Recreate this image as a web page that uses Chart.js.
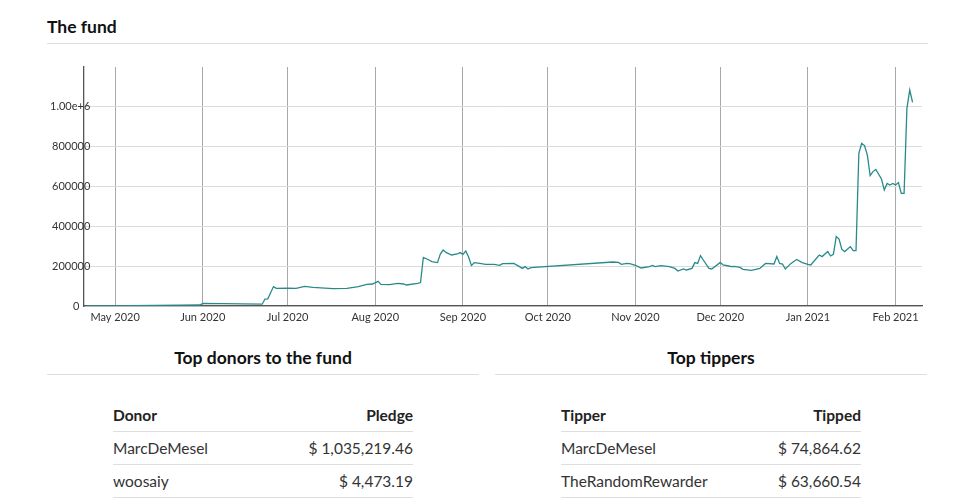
<!DOCTYPE html>
<html>
<head>
<meta charset="utf-8">
<title>The fund</title>
<script src="https://cdn.jsdelivr.net/npm/chart.js@4.4.1/dist/chart.umd.min.js"></script>
<style>
    html, body { margin: 0; padding: 0; background: #fff; }
    body { width: 975px; height: 499px; position: relative; overflow: hidden; font-family: 'Lato', sans-serif; color: #222; }
    .titulo { position: absolute; font-size: 17.5px; font-weight: bold; line-height: 24px; color: #111; }
    .raya { position: absolute; height: 1px; background: #dedede; }
    #caja-grafica { position: absolute; left: 0; top: 50px; width: 975px; height: 290px; }
    table { position: absolute; width: 300px; border-collapse: separate; border-spacing: 0; font-size: 15.5px; }
    td, th { height: 32px; padding: 0; line-height: 19px; vertical-align: middle; border-bottom: 1px solid #dedede; }
    th { font-weight: bold; color: #222; text-align: left; }
    td { color: #333; }
    .der { text-align: right; }
</style>
</head>
<body>

<div class="titulo" style="left:47px; top:14.5px;">The fund</div>
<div class="raya" style="left:47px; top:43px; width:881px;"></div>

<div id="caja-grafica"><canvas id="grafica"></canvas></div>

<div class="titulo" style="left:47px; top:345.5px; width:432px; text-align:center;">Top donors to the fund</div>
<div class="raya" style="left:47px; top:374px; width:432px;"></div>
<table id="tabla-donantes" style="left:113px; top:399px;"></table>

<div class="titulo" style="left:495px; top:345.5px; width:432px; text-align:center;">Top tippers</div>
<div class="raya" style="left:495px; top:374px; width:432px;"></div>
<table id="tabla-propinas" style="left:561px; top:399px;"></table>

<script>
// datos del fondo
const fundDates = [
    '2020-04-21','2020-04-28','2020-05-06','2020-05-15','2020-05-24','2020-05-31',
    '2020-06-01','2020-06-08','2020-06-15','2020-06-22','2020-06-23','2020-06-24','2020-06-26','2020-06-27',
    '2020-07-01','2020-07-04','2020-07-07','2020-07-10','2020-07-17','2020-07-22','2020-07-26','2020-07-29','2020-07-31',
    '2020-08-02','2020-08-03','2020-08-06','2020-08-09','2020-08-11','2020-08-12','2020-08-16','2020-08-17','2020-08-18',
    '2020-08-20','2020-08-21','2020-08-23','2020-08-24','2020-08-25','2020-08-26','2020-08-28','2020-08-30','2020-08-31',
    '2020-09-01','2020-09-02','2020-09-03','2020-09-04','2020-09-05','2020-09-07','2020-09-09','2020-09-12','2020-09-14',
    '2020-09-15','2020-09-19','2020-09-21','2020-09-22','2020-09-23','2020-09-24','2020-09-25',
    '2020-10-24','2020-10-26','2020-10-27','2020-10-29','2020-10-30',
    '2020-11-01','2020-11-03','2020-11-06','2020-11-07','2020-11-08','2020-11-10','2020-11-13','2020-11-15','2020-11-16',
    '2020-11-18','2020-11-19','2020-11-21','2020-11-22','2020-11-23','2020-11-24','2020-11-25','2020-11-27','2020-11-28',
    '2020-12-01','2020-12-02','2020-12-04','2020-12-05','2020-12-06','2020-12-08','2020-12-09','2020-12-12','2020-12-15',
    '2020-12-17','2020-12-20','2020-12-21','2020-12-22','2020-12-23','2020-12-24','2020-12-26','2020-12-28','2020-12-30',
    '2021-01-01','2021-01-02','2021-01-05','2021-01-06','2021-01-08','2021-01-09','2021-01-10','2021-01-11','2021-01-12',
    '2021-01-13','2021-01-14','2021-01-16','2021-01-17','2021-01-18','2021-01-19','2021-01-20','2021-01-21','2021-01-22',
    '2021-01-23','2021-01-24','2021-01-25','2021-01-27','2021-01-28','2021-01-29','2021-01-30','2021-01-31',
    '2021-02-01','2021-02-02','2021-02-03','2021-02-04','2021-02-05','2021-02-06','2021-02-07'
];
const fundValues = [
    0, 1000, 2000, 3000, 4000, 5000,
    13000, 12000, 11000, 9000, 35000, 36000, 97000, 88000,
    89000, 88000, 98000, 93000, 87000, 88000, 97000, 108000, 110000,
    123000, 108000, 107000, 113000, 110000, 105000, 113000, 117000, 243000,
    230000, 222000, 217000, 260000, 280000, 268000, 255000, 260000, 267000,
    258000, 275000, 245000, 202000, 217000, 213000, 208000, 208000, 203000,
    212000, 213000, 197000, 188000, 197000, 185000, 192000,
    220000, 218000, 208000, 213000, 212000,
    203000, 190000, 197000, 203000, 197000, 202000, 197000, 188000, 175000,
    185000, 180000, 188000, 217000, 213000, 252000, 230000, 188000, 185000,
    218000, 205000, 200000, 197000, 198000, 193000, 183000, 178000, 188000,
    213000, 210000, 247000, 213000, 210000, 185000, 213000, 233000, 217000,
    208000, 205000, 255000, 247000, 272000, 250000, 258000, 347000, 335000,
    283000, 272000, 297000, 277000, 277000, 763000, 813000, 802000, 755000,
    652000, 672000, 683000, 635000, 580000, 613000, 605000, 613000,
    605000, 617000, 563000, 563000, 988000, 1080000, 1018000
];

// ejes
const monthTicks = ['2020-05-01','2020-06-01','2020-07-01','2020-08-01','2020-09-01','2020-10-01','2020-11-01','2020-12-01','2021-01-01','2021-02-01'];
const monthLabels = ['May 2020','Jun 2020','Jul 2020','Aug 2020','Sep 2020','Oct 2020','Nov 2020','Dec 2020','Jan 2021','Feb 2021'];
const yTicks = [0, 200000, 400000, 600000, 800000, 1000000];
const yTickLabels = ['0\u2002\u2002', '200000', '400000', '600000', '800000', '1.00e+6'];

// tablas
const donorNames = ['MarcDeMesel', 'woosaiy'];
const donorPledges = ['$ 1,035,219.46', '$ 4,473.19'];
const tipperNames = ['MarcDeMesel', 'TheRandomRewarder'];
const tipperAmounts = ['$ 74,864.62', '$ 63,660.54'];

function llenarTabla(id, cabecera, nombres, montos) {
    const tabla = document.getElementById(id);
    let html = `<tr><th>${cabecera[0]}</th><th class="der">${cabecera[1]}</th></tr>`;
    for (let i = 0; i < nombres.length; i++) {
        html += `<tr><td>${nombres[i]}</td><td class="der">${montos[i]}</td></tr>`;
    }
    tabla.innerHTML = html;
}
llenarTabla('tabla-donantes', ['Donor', 'Pledge'], donorNames, donorPledges);
llenarTabla('tabla-propinas', ['Tipper', 'Tipped'], tipperNames, tipperAmounts);

Chart.defaults.font.family = 'Lato';
Chart.defaults.font.size = 11;
Chart.defaults.color = '#333';

const puntos = fundDates.map((d, i) => ({ x: Date.parse(d), y: fundValues[i] }));
const tickX = monthTicks.map(d => Date.parse(d));

new Chart(document.getElementById('grafica'), {
    type: 'line',
    data: {
        datasets: [{
            data: puntos,
            borderColor: '#2a8a8a',
            borderWidth: 1.3,
            pointRadius: 0,
            tension: 0,
            fill: false
        }]
    },
    options: {
        animation: false,
        responsive: true,
        maintainAspectRatio: false,
        layout: { padding: { top: 17, right: 53, left: 0, bottom: 0 } },
        plugins: { legend: { display: false }, tooltip: { enabled: false } },
        scales: {
            x: {
                type: 'linear',
                min: Date.UTC(2020, 3, 20),
                max: Date.UTC(2021, 1, 10, 8),
                afterBuildTicks: s => { s.ticks = tickX.map(v => ({ value: v })); },
                afterFit: s => { s.height = 34; },
                ticks: {
                    autoSkip: false,
                    maxRotation: 0,
                    padding: 5,
                    callback: (v) => monthLabels[tickX.indexOf(v)]
                },
                grid: { color: '#a8a8a8', lineWidth: 1, drawTicks: false },
                border: { color: '#555', width: 1.3 }
            },
            y: {
                min: 0,
                max: 1195000,
                afterBuildTicks: s => { s.ticks = yTicks.map(v => ({ value: v })); },
                afterFit: s => { s.width = 84; },
                ticks: {
                    // etiquetas montadas sobre el eje, alineadas a la derecha en x≈89
                    mirror: true,
                    crossAlign: 'far',
                    padding: -34,
                    callback: (v) => yTickLabels[yTicks.indexOf(v)]
                },
                grid: { color: '#dadada', lineWidth: 1, drawTicks: false },
                border: { color: '#555', width: 1.3 }
            }
        }
    }
});
</script>
</body>
</html>
